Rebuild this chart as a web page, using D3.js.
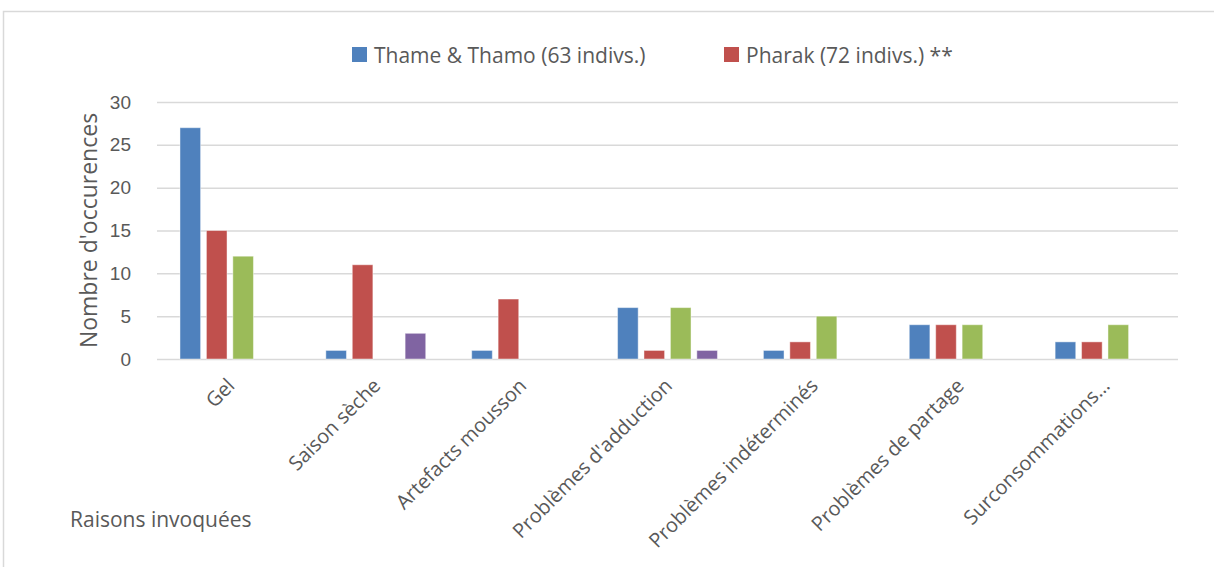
<!DOCTYPE html>
<html>
<head>
<meta charset="utf-8">
<script src="https://cdn.jsdelivr.net/npm/d3@7"></script>
<style>
  body { margin: 0; background: #fff; }
  svg { display: block; font-family: 'Open Sans', sans-serif; }
  .grid line { stroke: #d9d9d9; stroke-width: 1.5; }
  .grid .domain { display: none; }
  .y-axis text, .x-axis text { fill: #595959; }
</style>
</head>
<body>
<svg width="1214" height="567"></svg>
<script>
const categories = ['Gel', 'Saison sèche', 'Artefacts mousson', "Problèmes d'adduction",
  'Problèmes indéterminés', 'Problèmes de partage', 'Surconsommations…'];
const series = ['Thame & Thamo (63 indivs.)', 'Pharak (72 indivs.) **', 'Série 3', 'Série 4'];
const legendSeries = ['Thame & Thamo (63 indivs.)', 'Pharak (72 indivs.) **'];
const thameValues  = [27, 1, 1, 6, 1, 4, 2];
const pharakValues = [15, 11, 7, 1, 2, 4, 2];
const serie3Values = [12, 0, 0, 6, 5, 4, 4];
const serie4Values = [0, 3, 0, 1, 0, 0, 0];
const yTicks = [0, 5, 10, 15, 20, 25, 30];

const colors = ['#4f81bd', '#c0504d', '#9bbb59', '#8064a2'];
const allValues = [thameValues, pharakValues, serie3Values, serie4Values];

const svg = d3.select('svg');
const margin = { left: 157, right: 36, top: 102, bottom: 208 };
const width = +svg.attr('width');
const height = +svg.attr('height');
const innerWidth = width - margin.left - margin.right;
const innerHeight = height - margin.top - margin.bottom;

// chart border (only the left and top edges are visible in the crop)
svg.append('path')
  .attr('d', `M3.5,${height} L3.5,11.5 L${width},11.5`)
  .attr('fill', 'none').attr('stroke', '#d9d9d9').attr('stroke-width', 1.5);

const g = svg.append('g').attr('transform', `translate(${margin.left},${margin.top})`);

const x0 = d3.scaleBand().domain(categories).range([0, innerWidth]);
const x1 = d3.scaleBand().domain(series).range([0, x0.bandwidth()])
  .paddingInner(0.22).paddingOuter(0.87);
const y = d3.scaleLinear().domain([0, 30]).range([innerHeight, 0]);

// grid
g.append('g').attr('class', 'grid')
  .call(d3.axisLeft(y).tickValues(yTicks).tickSize(-innerWidth).tickFormat(''))
  .selectAll('.tick line').attr('x1', 0);

// y axis labels
g.append('g').attr('class', 'y-axis')
  .call(d3.axisLeft(y).tickValues(yTicks).tickSize(0).tickPadding(26))
  .call(a => a.select('.domain').remove())
  .selectAll('text').style('font-size', '19px');

// bars
const data = [];
categories.forEach((c, i) => {
  series.forEach((s, j) => {
    data.push({ cat: c, serie: s, value: allValues[j][i], color: colors[j] });
  });
});

g.selectAll('.bar')
  .data(data.filter(d => d.value > 0))
  .enter().append('rect')
  .attr('class', 'bar')
  .attr('x', d => x0(d.cat) + x1(d.serie))
  .attr('y', d => y(d.value))
  .attr('width', x1.bandwidth())
  .attr('height', d => y(0) - y(d.value))
  .attr('fill', d => d.color)
  .attr('stroke', 'rgba(255,255,255,0.45)')
  .attr('stroke-width', 1);

// x labels
g.selectAll('.x-label')
  .data(categories)
  .enter().append('text')
  .attr('class', 'x-label')
  .attr('transform', d => `translate(${x0(d) + x0.bandwidth() / 2 + 6},${innerHeight + 28}) rotate(-45)`)
  .attr('text-anchor', 'end')
  .attr('fill', '#595959')
  .style('font-size', '20px')
  .text(d => d);

// y title
svg.append('text')
  .attr('transform', `translate(97,${margin.top + innerHeight / 2}) rotate(-90)`)
  .attr('text-anchor', 'middle')
  .attr('fill', '#595959')
  .style('font-size', '23px')
  .text("Nombre d'occurences");

// x title
svg.append('text')
  .attr('x', 70).attr('y', 527)
  .attr('fill', '#595959')
  .style('font-size', '21px')
  .text('Raisons invoquées');

// legend
const legendX = [352, 724];
const legend = svg.selectAll('.legend')
  .data(legendSeries)
  .enter().append('g')
  .attr('transform', (d, i) => `translate(${legendX[i]},47)`);
legend.append('rect')
  .attr('width', 15).attr('height', 15)
  .attr('fill', (d, i) => colors[i]);
legend.append('text')
  .attr('x', 22).attr('y', 16)
  .attr('fill', '#595959')
  .style('font-size', '21px')
  .text(d => d);
</script>
</body>
</html>
